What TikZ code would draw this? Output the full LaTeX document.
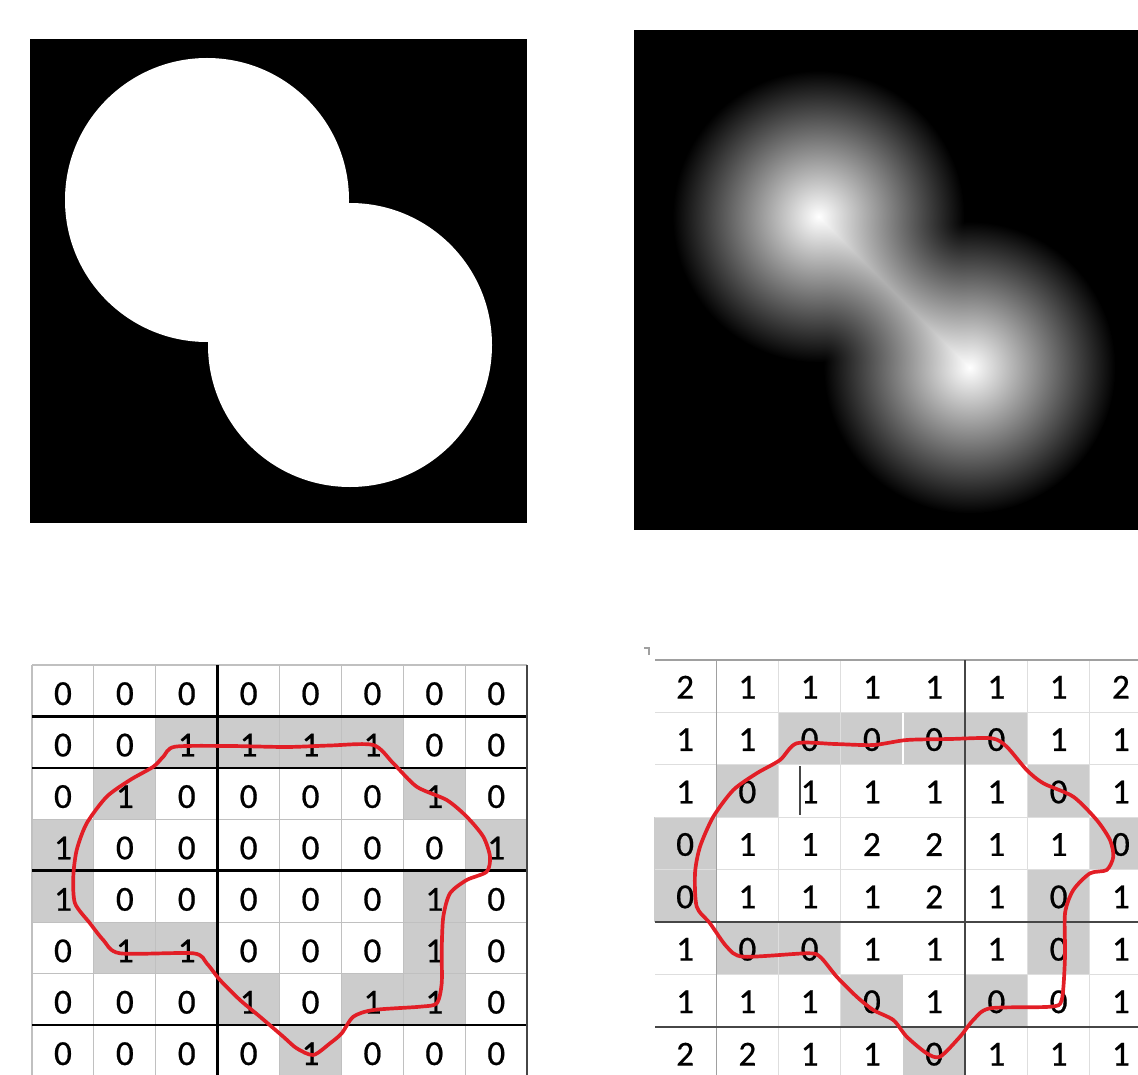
\documentclass[tikz,border=0pt]{standalone}
\usepackage{fontspec}
\setmainfont{Carlito}
\newfontfamily\cellfont[FakeBold=0.6]{Carlito}
\usepackage{tikz}
\usetikzlibrary{calc}

\definecolor{penred}{RGB}{226,30,38}
\definecolor{cellgray}{RGB}{204,204,204}
\definecolor{gridgray}{RGB}{192,192,192}
\definecolor{lightgray}{RGB}{222,222,222}
\definecolor{midgray}{RGB}{160,160,160}
\definecolor{darkgray}{RGB}{70,70,70}

% distance map of the two discs (pixel units, 10.4px per bp)
\pgfdeclarefunctionalshading{distmap}{\pgfpoint{-50bp}{-50bp}}{\pgfpoint{50bp}{50bp}}{}{
  2 copy sub 7.354 mul abs
  3 1 roll add 7.354 mul abs
  2 copy 99.5 div exch 106.8 div add 1 le
  {99.5 exch sub dup mul exch dup mul add sqrt}
  {dup mul exch 106.8 sub dup mul add sqrt 146 exch sub}
  ifelse
  146 div
  dup 0 lt {pop 0} if
  dup 1 gt {pop 1} if
  dup dup
}

\begin{document}
\begin{tikzpicture}[x=0.02cm,y=-0.02cm,
  num/.style={inner sep=0pt,font=\cellfont\fontsize{20}{24}\selectfont},
  thinrule/.style={draw=gridgray,line width=0.6pt},
  thickrule/.style={draw=black,line width=1.4pt},
  pen/.style={draw=penred,line width=2.1pt,line join=round}]
  \useasboundingbox (0,0) rectangle (1138,1074);
  \clip (0,0) rectangle (1138,1074);

  % binary image
  \fill (30,39) rectangle (527,523);
  \fill[white] (207,200) circle (142) (350,345) circle (142);

  % distance image
  \fill (634,30) rectangle (1138,530);
  \begin{scope}
    \clip (818.5,216.5) circle (146) (969.5,367.5) circle (146);
    \shade[shading=distmap] (634,32) rectangle (1154,552);
  \end{scope}

  % left table
  \foreach \c/\r in {3/2,4/2,5/2,6/2,2/3,7/3,1/4,8/4,1/5,7/5,2/6,3/6,7/6,4/7,6/7,7/7,5/8}
    \fill[cellgray] ({32+61.9*(\c-1)},{665+51.43*(\r-1)}) rectangle ++(61.9,51.43);
  \foreach \y in {665,819.3,922.1,973.6}
    \draw[thinrule] (32,\y) -- (527,\y);
  \foreach \x in {32,93.9,155.8,279.6,341.5,403.4,465.3}
    \draw[thinrule] (\x,665) -- (\x,1080);
  \foreach \y in {716.4,767.9,870.7,1025}
    \draw[thickrule] (32,\y) -- (527,\y);
  \draw[thickrule] (217.7,665) -- (217.7,1080);
  \draw[darkgray,line width=1pt] (527,665) -- (527,1080);

  \foreach \v [count=\c] in {0,0,0,0,0,0,0,0}
    \node[num] (l1-\c) at ({32+61.9*(\c-0.5)},693.7) {\v};
  \foreach \v [count=\c] in {0,0,1,1,1,1,0,0}
    \node[num] (l2-\c) at ({32+61.9*(\c-0.5)},745.1) {\v};
  \foreach \v [count=\c] in {0,1,0,0,0,0,1,0}
    \node[num] (l3-\c) at ({32+61.9*(\c-0.5)},796.6) {\v};
  \foreach \v [count=\c] in {1,0,0,0,0,0,0,1}
    \node[num] (l4-\c) at ({32+61.9*(\c-0.5)},848.0) {\v};
  \foreach \v [count=\c] in {1,0,0,0,0,0,1,0}
    \node[num] (l5-\c) at ({32+61.9*(\c-0.5)},899.4) {\v};
  \foreach \v [count=\c] in {0,1,1,0,0,0,1,0}
    \node[num] (l6-\c) at ({32+61.9*(\c-0.5)},950.9) {\v};
  \foreach \v [count=\c] in {0,0,0,1,0,1,1,0}
    \node[num] (l7-\c) at ({32+61.9*(\c-0.5)},1002.3) {\v};
  \foreach \v [count=\c] in {0,0,0,0,1,0,0,0}
    \node[num] (l8-\c) at ({32+61.9*(\c-0.5)},1053.7) {\v};

  \draw[pen] plot[smooth cycle,tension=0.45] coordinates {
    (175,746.7) (230,746) (286.7,747) (330,745.5) (373.3,745) (393.3,763.3)
    (416.7,786.7) (446.7,800) (466.7,816.7) (483.3,836.7) (490,856.7)
    (486.7,871.7) (466.7,880) (450,893.3) (443.3,916.7) (441.7,950)
    (441.7,983.3) (436.7,1003.3) (420,1006.7) (373.3,1010) (353.3,1016.7)
    (341.7,1033.3) (330,1043.3) (313.3,1055) (296.7,1048.3) (283.3,1036.7)
    (260,1016.7) (240,1000) (220,980) (206.7,963.3) (193.3,953.3) (120,953.3)
    (103.3,940) (90,923.3) (75,903.3) (73.3,876.7) (76.7,850) (86.7,823.3)
    (106.7,796.7) (130,780) (153.3,766.7) (163.3,756.7)};

  % right table
  \foreach \c/\r in {3/2,4/2,5/2,6/2,2/3,7/3,1/4,8/4,1/5,7/5,2/6,3/6,7/6,4/7,6/7,5/8}
    \fill[cellgray] ({654+62.25*(\c-1)},{660+52.4*(\r-1)}) rectangle ++(62.25,52.4);
  \draw[white,line width=1pt] (903,712.4) -- (903,764.8);
  \foreach \y in {712.4,764.8,817.2,869.6,974.4}
    \draw[lightgray,line width=0.7pt] (655,\y) -- (1140,\y);
  \foreach \x in {778.5,840.75,1027.5,1089.75}
    \draw[lightgray,line width=0.5pt] (\x,660) -- (\x,1080);
  \draw[midgray,line width=0.8pt] (655,660) -- (1140,660);
  \draw[midgray,line width=0.8pt] (716.25,660) -- (716.25,1080);
  \draw[darkgray,line width=1pt] (965.25,660) -- (965.25,1080);
  \draw[darkgray,line width=1pt] (655,922) -- (1140,922);
  \draw[darkgray,line width=1pt] (655,1026.8) -- (1140,1026.8);
  \draw[darkgray,line width=0.7pt] (800,766) -- (800,815);
  \draw[midgray,line width=0.6pt] (644,648) -- (649,648) -- (649,655);

  \foreach \v [count=\c] in {2,1,1,1,1,1,1,2}
    \node[num] (r1-\c) at ({654+62.25*(\c-0.5)},687.2) {\v};
  \foreach \v [count=\c] in {1,1,0,0,0,0,1,1}
    \node[num] (r2-\c) at ({654+62.25*(\c-0.5)},739.6) {\v};
  \foreach \v [count=\c] in {1,0,1,1,1,1,0,1}
    \node[num] (r3-\c) at ({654+62.25*(\c-0.5)},792.0) {\v};
  \foreach \v [count=\c] in {0,1,1,2,2,1,1,0}
    \node[num] (r4-\c) at ({654+62.25*(\c-0.5)},844.5) {\v};
  \foreach \v [count=\c] in {0,1,1,1,2,1,0,1}
    \node[num] (r5-\c) at ({654+62.25*(\c-0.5)},896.9) {\v};
  \foreach \v [count=\c] in {1,0,0,1,1,1,0,1}
    \node[num] (r6-\c) at ({654+62.25*(\c-0.5)},949.3) {\v};
  \foreach \v [count=\c] in {1,1,1,0,1,0,0,1}
    \node[num] (r7-\c) at ({654+62.25*(\c-0.5)},1001.8) {\v};
  \foreach \v [count=\c] in {2,2,1,1,0,1,1,1}
    \node[num] (r8-\c) at ({654+62.25*(\c-0.5)},1054.2) {\v};

  \draw[pen] plot[smooth cycle,tension=0.45] coordinates {
    (796.7,743.3) (835,744) (873.3,745) (906.7,740) (950,739) (991.7,738.3)
    (1006.7,746.7) (1026.7,770) (1043.3,783.3) (1073.3,796.7) (1096.7,820)
    (1110,840) (1113.3,856.7) (1106.7,870) (1090,873.3) (1073.3,890)
    (1065,913.3) (1065,956.7) (1061.7,1000) (1050,1006.7) (990,1008.3)
    (973.3,1020) (960,1036.7) (940,1056.7) (926.7,1053.3) (906.7,1036.7)
    (893.3,1020) (873.3,1010) (856.7,996.7) (836.7,976.7) (820,956.7)
    (806.7,953.3) (743.3,956.7) (726.7,946.7) (710,923.3) (696.7,906.7)
    (695,873.3) (700,846.7) (713.3,816.7) (733.3,790) (756.7,773.3) (780,760)};
\end{tikzpicture}
\end{document}
